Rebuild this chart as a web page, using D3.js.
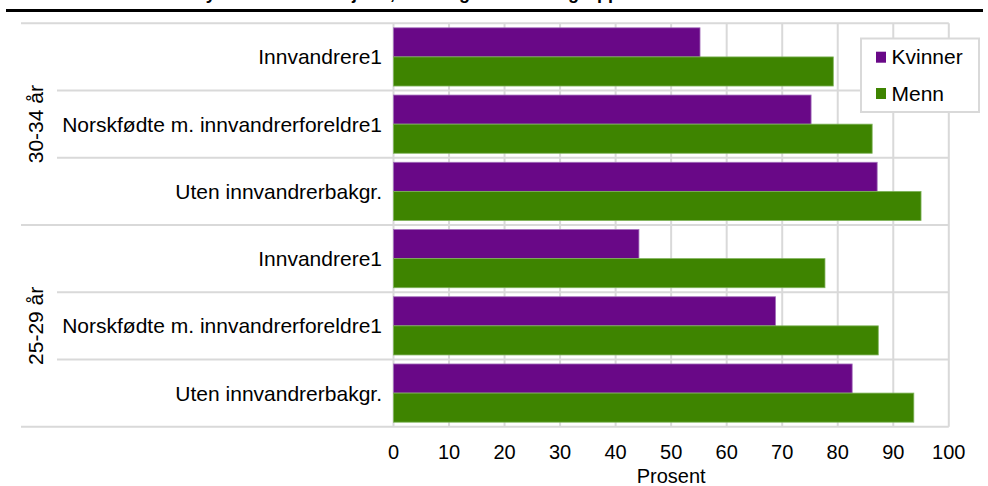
<!DOCTYPE html>
<html>
<head>
<meta charset="utf-8">
<script src="https://cdn.jsdelivr.net/npm/d3@7"></script>
<style>
  html, body { margin: 0; padding: 0; background: #fff; }
  svg { display: block; font-family: "Liberation Sans", Arial, sans-serif; }
</style>
</head>
<body>
<svg id="chart" width="988" height="486"></svg>
<script>
// ---- data ----
const titleText = "Andel sysselsatte etter kjønn, alder og innvandrergruppe";
const groups = ["30-34 år", "25-29 år"];
const categories = ["Innvandrere1", "Norskfødte m. innvandrerforeldre1", "Uten innvandrerbakgr."];
const seriesNames = ["Kvinner", "Menn"];
const kvinner3034 = [55.2, 75.2, 87.1];
const menn3034 = [79.2, 86.2, 95.0];
const kvinner2529 = [44.2, 68.8, 82.6];
const menn2529 = [77.7, 87.3, 93.7];
const xTicks = [0, 10, 20, 30, 40, 50, 60, 70, 80, 90, 100];
const xTitle = "Prosent";
const colors = ["#690887", "#3e8400"];

// ---- build rows ----
const rows = [];
const groupValues = [[kvinner3034, menn3034], [kvinner2529, menn2529]];
groups.forEach((g, gi) => {
  categories.forEach((c, ci) => {
    rows.push({ id: g + "|" + c, group: g, cat: c, values: [groupValues[gi][0][ci], groupValues[gi][1][ci]] });
  });
});

const svg = d3.select("#chart");
const pLeft = 393.5, pRight = 948.8, pTop = 23.3, pBottom = 426.7;

const x = d3.scaleLinear().domain([0, 100]).range([pLeft, pRight]);
const y = d3.scaleBand().domain(rows.map(r => r.id)).range([pTop, pBottom]).paddingInner(0).paddingOuter(0);
const inner = d3.scaleBand().domain(seriesNames).range([0, y.bandwidth()]).paddingInner(0).paddingOuter(0.155);

const grid = "#d9d9d9";

// title (cut off at top, as in the reference) and rule
svg.append("text")
  .attr("x", 629).attr("y", -1.2)
  .attr("text-anchor", "end")
  .attr("font-size", 18).attr("font-weight", "bold")
  .attr("fill", "#000")
  .text(titleText);
svg.append("rect").attr("x", 6).attr("y", 9).attr("width", 977).attr("height", 3).attr("fill", "#000");

// vertical gridlines
svg.append("g").selectAll("line").data(xTicks).join("line")
  .attr("x1", d => x(d)).attr("x2", d => x(d))
  .attr("y1", pTop).attr("y2", pBottom)
  .attr("stroke", grid).attr("stroke-width", 2);

// horizontal separators
const boundaries = d3.range(rows.length + 1);
svg.append("g").selectAll("line").data(boundaries).join("line")
  .attr("x1", d => (d % categories.length === 0) ? 21 : 57)
  .attr("x2", pRight)
  .attr("y1", d => pTop + d * y.step())
  .attr("y2", d => pTop + d * y.step())
  .attr("stroke", grid).attr("stroke-width", 2);

// bars
const rowG = svg.append("g").selectAll("g").data(rows).join("g")
  .attr("transform", r => `translate(0,${y(r.id)})`);
rowG.selectAll("rect").data(r => r.values.map((v, i) => ({ v, s: seriesNames[i], i }))).join("rect")
  .attr("x", x(0))
  .attr("y", d => inner(d.s))
  .attr("width", d => x(d.v) - x(0))
  .attr("height", inner.bandwidth())
  .attr("fill", d => colors[d.i])
  .attr("stroke", d => d.i === 0 ? "#a36fbb" : "#7fb35a")
  .attr("stroke-width", 0.8);

// category labels
svg.append("g").selectAll("text").data(rows).join("text")
  .attr("x", 382)
  .attr("y", r => y(r.id) + y.bandwidth() / 2 + 7.5)
  .attr("text-anchor", "end")
  .attr("font-size", 21)
  .attr("fill", "#000")
  .text(r => r.cat);

// group labels
svg.append("g").selectAll("text").data(groups).join("text")
  .attr("transform", (g, gi) => {
    const cy = pTop + (gi * categories.length + categories.length / 2) * y.step();
    return `translate(43,${cy}) rotate(-90)`;
  })
  .attr("text-anchor", "middle")
  .attr("font-size", 21)
  .attr("fill", "#000")
  .text(g => g);

// x axis tick labels
svg.append("g").selectAll("text").data(xTicks).join("text")
  .attr("x", d => x(d)).attr("y", 459)
  .attr("text-anchor", "middle")
  .attr("font-size", 20)
  .attr("fill", "#000")
  .text(d => d);

svg.append("text")
  .attr("x", (pLeft + pRight) / 2).attr("y", 482.5)
  .attr("text-anchor", "middle")
  .attr("font-size", 20)
  .attr("fill", "#000")
  .text(xTitle);

// legend
const lg = svg.append("g");
lg.append("rect").attr("x", 861).attr("y", 38.5).attr("width", 118).attr("height", 73.5)
  .attr("fill", "#fff").attr("stroke", grid).attr("stroke-width", 2);
const li = lg.selectAll("g").data(seriesNames).join("g")
  .attr("transform", (d, i) => `translate(876,${51.7 + i * 36.3})`);
li.append("rect").attr("width", 10).attr("height", 11).attr("fill", (d, i) => colors[i]);
li.append("text").attr("x", 15.5).attr("y", 12.6)
  .attr("font-size", 21).attr("fill", "#000").text(d => d);
</script>
</body>
</html>
